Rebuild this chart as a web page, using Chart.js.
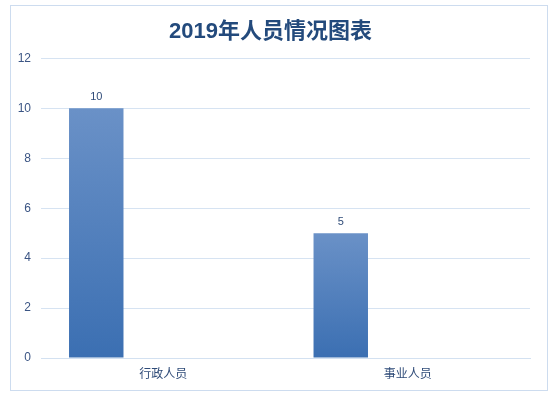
<!doctype html>
<html lang="zh">
  <head>
    <meta charset="UTF-8" />
    <title>2019年人员情况图表</title>
    <script src="https://cdn.jsdelivr.net/npm/chart.js"></script>
    <style>
      body { margin: 0; background: white; }
      #box {
        position: absolute;
        left: 10px;
        top: 5px;
        width: 536px;
        height: 384px;
        border: 1px solid #cddcef;
      }
    </style>
  </head>
  <body>
    <div id="box"><canvas id="staffChart" width="536" height="384"></canvas></div>

    <script>
      // values
      const categories = ["行政人员", "事业人员"];
      const staffCounts = [10, 5];
      // the sheet has two more columns with nothing in them, they push the bars left
      const emptyColumnA = [null, null];
      const emptyColumnB = [null, null];
      const yMax = 12;
      const yStep = 2;

      const FONT = "'Liberation Sans', 'Noto Sans CJK SC', sans-serif";

      function barGradient(context) {
        const chart = context.chart;
        const y = chart.scales && chart.scales.y;
        if (!chart.chartArea || !y || context.raw == null) return "#4f7fbf";
        const top = y.getPixelForValue(context.raw);
        const bottom = y.getPixelForValue(0);
        const g = chart.ctx.createLinearGradient(0, top, 0, bottom);
        g.addColorStop(0, "#6a91c7");
        g.addColorStop(1, "#3b6fb2");
        return g;
      }

      // value labels above the bars
      const valueLabels = {
        id: "valueLabels",
        afterDatasetsDraw(chart) {
          const ctx = chart.ctx;
          const meta = chart.getDatasetMeta(0);
          ctx.save();
          ctx.font = "11px " + FONT;
          ctx.fillStyle = "#2f4b78";
          ctx.textAlign = "center";
          ctx.textBaseline = "bottom";
          meta.data.forEach((bar, i) => {
            ctx.fillText(String(staffCounts[i]), bar.x, bar.y - 6);
          });
          ctx.restore();
        },
      };

      const ctx = document.getElementById("staffChart").getContext("2d");
      new Chart(ctx, {
        type: "bar",
        data: {
          labels: categories,
          datasets: [
            { label: "人数", data: staffCounts, backgroundColor: barGradient },
            { label: "", data: emptyColumnA },
            { label: "", data: emptyColumnB },
          ],
        },
        options: {
          responsive: false,
          animation: false,
          categoryPercentage: 0.822,
          barPercentage: 0.813,
          layout: { padding: { left: 0, right: 17, top: 0, bottom: 0 } },
          plugins: {
            legend: { display: false },
            tooltip: { enabled: false },
            title: {
              display: true,
              text: "2019年人员情况图表",
              color: "#234a7c",
              font: { family: FONT, size: 22, weight: "bold" },
              padding: { top: 13, bottom: 13 },
            },
          },
          scales: {
            x: {
              afterFit: (scale) => { scale.height = 32; },
              grid: { display: false, drawTicks: false },
              border: { color: "#d3e1f1", width: 1 },
              ticks: { color: "#2f4b78", font: { family: FONT, size: 12 }, padding: 9 },
            },
            y: {
              min: 0,
              max: yMax,
              afterFit: (scale) => { scale.width = 30; },
              grid: { color: "#d6e3f2", drawTicks: false },
              border: { display: false },
              ticks: {
                stepSize: yStep,
                color: "#3b5584",
                font: { family: FONT, size: 12 },
                padding: 10,
              },
            },
          },
        },
        plugins: [valueLabels],
      });
    </script>
  </body>
</html>
